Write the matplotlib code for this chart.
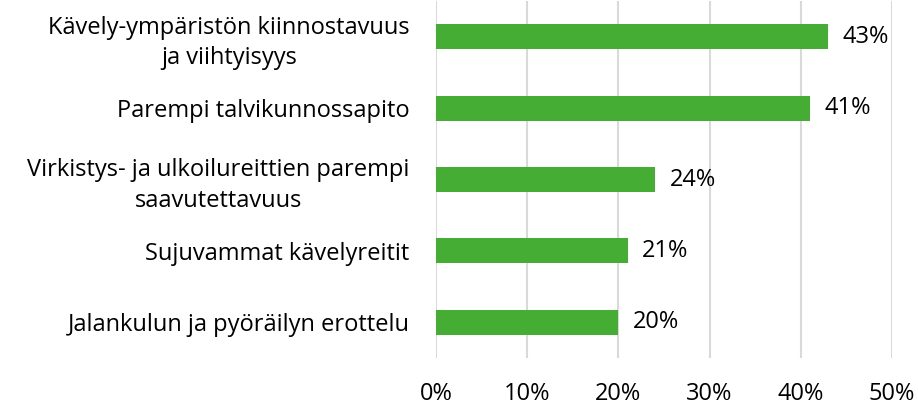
import matplotlib.pyplot as plt
from matplotlib.ticker import FuncFormatter

plt.rcParams['font.family'] = ['Open Sans', 'DejaVu Sans']

# Vastausvaihtoehdot ja osuudet (%)
categories = [
    "Kävely-ympäristön kiinnostavuus\nja viihtyisyys",
    "Parempi talvikunnossapito",
    "Virkistys- ja ulkoilureittien parempi\nsaavutettavuus",
    "Sujuvammat kävelyreitit",
    "Jalankulun ja pyöräilyn erottelu",
]
values = [43, 41, 24, 21, 20]

fig = plt.figure(figsize=(9.18, 4.04), dpi=100)
ax = fig.add_axes([436 / 918, 1 - 358 / 404, (892 - 436) / 918, 357 / 404])

ypos = list(range(len(categories)))
ax.barh(ypos, values, height=0.35, color='#46ad34', zorder=3)
ax.set_yticks(ypos)
ax.set_yticklabels(categories, fontsize=17, ha='right', multialignment='center',
                   linespacing=1.35)
ax.tick_params(axis='y', length=0, pad=19)
ax.invert_yaxis()
ax.set_ylim(4.5, -0.5)

ax.set_xlim(0, 50)
ax.set_xticks(range(0, 51, 10))
ax.xaxis.set_major_formatter(FuncFormatter(lambda v, p: f"{v:.0f}%"))
ax.tick_params(axis='x', length=0, labelsize=17, pad=17)
ax.grid(axis='x', color='#d9d9d9', linewidth=1.5, zorder=0)

for s in ax.spines.values():
    s.set_visible(False)

for y, v in zip(ypos, values):
    ax.text(v + 1.6, y, f"{v}%", va='center', ha='left', fontsize=17)

fig.savefig('out.png', dpi=100)
